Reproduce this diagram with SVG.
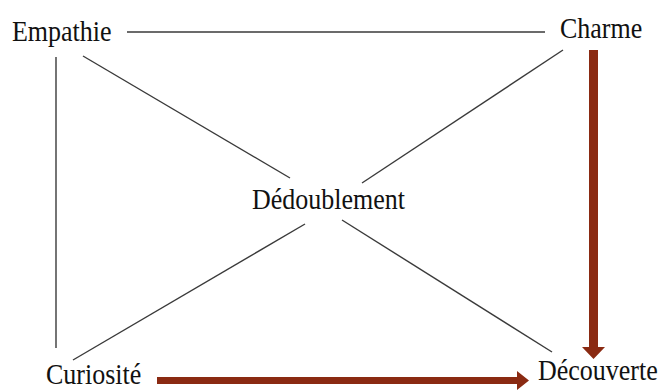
<svg xmlns="http://www.w3.org/2000/svg" width="663" height="390" viewBox="0 0 663 390">
  <style>
    .lbl { font-family: "Liberation Serif", "Times New Roman", serif; font-size: 26px; fill: #111; }
    .link { stroke: #3a3a3a; stroke-width: 1.4; fill: none; }
    .flow { fill: #8a2a12; }
  </style>
  <rect width="663" height="390" fill="#ffffff"/>
  <g id="connectors">
    <line class="link" x1="127" y1="32" x2="545" y2="32"/>
    <line class="link" x1="56" y1="57" x2="56" y2="348"/>
    <line class="link" x1="83" y1="56" x2="290" y2="178"/>
    <line class="link" x1="563" y1="50" x2="362" y2="183"/>
    <line class="link" x1="305" y1="224" x2="73" y2="360"/>
    <line class="link" x1="342" y1="220" x2="552" y2="352"/>
    <!-- Charme to Découverte -->
    <path class="flow" d="M589,50 H598 V347 H605 L593.5,359 L582,347 H589 Z"/>
    <!-- Curiosité to Découverte -->
    <path class="flow" d="M157,377 H517 V371 L529,380.5 L517,390 V384 H157 Z"/>
  </g>
  <g id="empathie"><text class="lbl" transform="translate(12,41) scale(1,1.15)">Empathie</text></g>
  <g id="charme"><text class="lbl" transform="translate(560,38) scale(1,1.15)">Charme</text></g>
  <g id="dedoublement"><text class="lbl" transform="translate(252,209) scale(1,1.15)">Dédoublement</text></g>
  <g id="curiosite"><text class="lbl" transform="translate(46,384) scale(1,1.15)">Curiosité</text></g>
  <g id="decouverte"><text class="lbl" transform="translate(538,380) scale(1,1.15)">Découverte</text></g>
</svg>
